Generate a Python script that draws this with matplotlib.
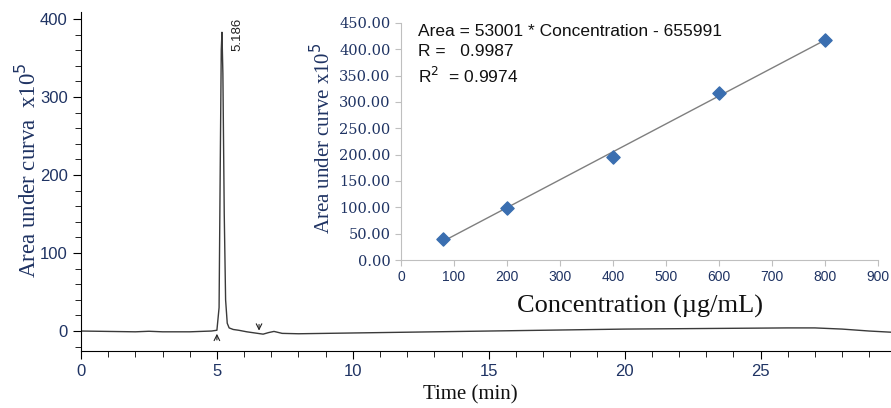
import numpy as np
import matplotlib.pyplot as plt
from matplotlib.ticker import MultipleLocator, FormatStrFormatter

# chromatogram trace (time in min, signal x10^5)
time = [0, 1, 2, 2.5, 3, 4, 4.8, 5.0, 5.08, 5.12, 5.16, 5.186, 5.22, 5.27, 5.32, 5.38,
        5.45, 5.6, 5.8, 6.1, 6.5, 6.7, 6.9, 7.1, 7.4, 8, 9, 10, 12, 14, 16, 18, 20,
        22, 24, 26, 27, 28, 29, 29.8]
signal = [0, -0.5, -1, -0.3, -1, -1, 0, 1, 30, 200, 360, 383, 330, 150, 40, 10,
          4, 2, 1, -1, -3, -4, -2, -0.5, -3, -3.5, -3, -2.5, -1.5, -0.5, 0.5, 1.5, 2.5,
          3, 3.5, 4, 4, 2.5, 0, -1.5]
peak_time = 5.186
arrow_up_t = 5.0
arrow_down_t = 6.55

# calibration data
conc = [80, 200, 400, 600, 800]
area = [39, 99, 196, 317, 418]
slope = 53001
intercept = -655991

navy = '#1f3363'

plt.rcParams['font.family'] = ['Liberation Sans', 'DejaVu Sans']
fig = plt.figure(figsize=(8.91, 4.08), dpi=100)

ax = fig.add_axes([81/891, 1 - 351/408, 810/891, (351-12)/408])
ax.plot(time, signal, color='#3a3a3a', lw=1.0)
ax.set_xlim(0, 29.8)
ax.set_ylim(-25.6, 409)
ax.spines['top'].set_visible(False)
ax.spines['right'].set_visible(False)
ax.xaxis.set_major_locator(MultipleLocator(5))
ax.xaxis.set_minor_locator(MultipleLocator(1))
ax.yaxis.set_major_locator(MultipleLocator(100))
ax.yaxis.set_minor_locator(MultipleLocator(20))
ax.tick_params(which='major', length=6, labelsize=12, labelcolor=navy)
ax.tick_params(which='minor', length=4)
ax.set_yticks([0, 100, 200, 300, 400])

ax.text(peak_time + 0.55, 402, f'{peak_time:.3f}', rotation=90, ha='center', va='top',
        fontsize=9.5, color='#222222')
ax.annotate('', xy=(arrow_up_t, 0), xytext=(arrow_up_t, -15),
            arrowprops=dict(arrowstyle='->', color='#222222', lw=0.8))
ax.annotate('', xy=(arrow_down_t, -3), xytext=(arrow_down_t, 12),
            arrowprops=dict(arrowstyle='->', color='#222222', lw=0.8))

fig.text(28/891, 1 - 170/408, r'Area under curva  x10$^{5}$', rotation=90,
         ha='center', va='center', fontsize=16.5, family='Liberation Serif', color=navy)
fig.text(470/891, 1 - 395/408, 'Time (min)', ha='center', va='center', fontsize=15,
         family='Liberation Serif', color='#111111')

# inset calibration plot
ins = fig.add_axes([401/891, 1 - 260/408, 477/891, (260-23)/408])
ins.patch.set_alpha(0)
cx = np.array([conc[0], conc[-1]])
ins.plot(cx, (slope * cx + intercept) / 1e5, color='#7f7f7f', lw=1.0, zorder=2)
ins.scatter(conc, area, marker='D', s=45, color='#3a6eb0', zorder=3)
ins.set_xlim(0, 900)
ins.set_ylim(0, 450)
ins.set_xticks(np.arange(0, 901, 100))
ins.set_yticks(np.arange(0, 451, 50))
ins.yaxis.set_major_formatter(FormatStrFormatter('%.2f'))
for s in ['top', 'right']:
    ins.spines[s].set_visible(False)
for s in ['left', 'bottom']:
    ins.spines[s].set_color('#bfbfbf')
ins.tick_params(colors='#bfbfbf', labelcolor=navy, length=4, labelsize=10)
for lab in ins.get_yticklabels():
    lab.set_family('DejaVu Serif')
    lab.set_fontsize(10.5)

eq_txt = f'Area = {slope} * Concentration - {abs(intercept)}\nR =   0.9987\nR$^2$  = 0.9974'
ins.text(0.035, 0.995, eq_txt, transform=ins.transAxes, ha='left', va='top',
         fontsize=12.5, color='#111111', linespacing=1.4)

fig.text(323/891, 1 - 138/408, r'Area under curve x10$^{5}$', rotation=90,
         ha='center', va='center', fontsize=15, family='Liberation Serif', color=navy)
fig.text(640/891, 1 - 306/408, 'Concentration (\u00b5g/mL)', ha='center', va='center',
         fontsize=19, family='Liberation Serif', color='#111111')

fig.savefig('out.png', dpi=100)
